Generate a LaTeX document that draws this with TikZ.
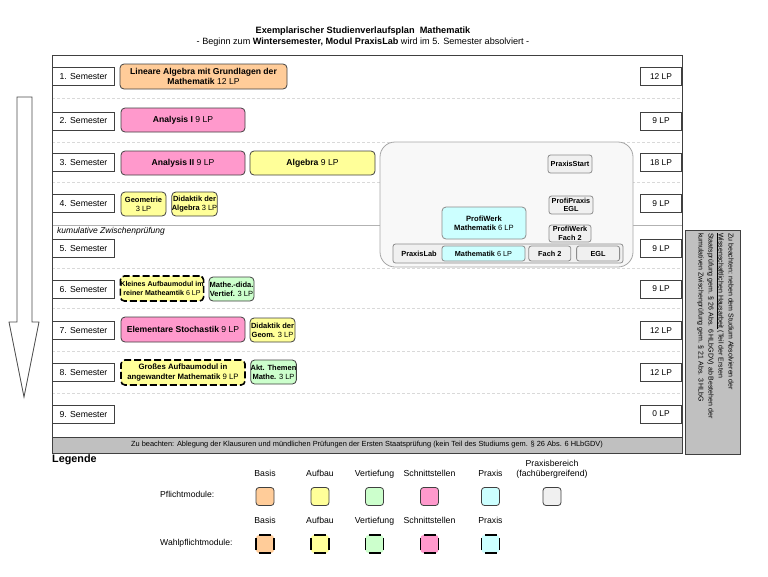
\documentclass[tikz,border=0pt]{standalone}
\usepackage{fontspec}
\setmainfont{Liberation Sans}
\usetikzlibrary{positioning}
\definecolor{basis}{HTML}{FFCC99}
\definecolor{aufbau}{HTML}{FFFF99}
\definecolor{vertiefung}{HTML}{CCFFCC}
\definecolor{schnitt}{HTML}{FF99CC}
\definecolor{praxis}{HTML}{CCFFFF}
\definecolor{bereich}{HTML}{F0F0F0}
\definecolor{hinweis}{HTML}{C0C0C0}
\definecolor{rahmen}{HTML}{404040}
\tikzstyle{semester} = [rectangle, minimum width=62pt, minimum height=18pt, inner sep=0pt, text centered, draw=rahmen, line width=1pt, fill=white, font=\fontsize{8.7}{9.5}\selectfont]
\tikzstyle{lp} = [semester, minimum width=41pt, font=\fontsize{8.4}{9.5}\selectfont]
\tikzstyle{modul} = [rectangle, rounded corners=4pt, minimum height=24pt, inner sep=1pt, align=center, draw=rahmen, line width=0.8pt, font=\fontsize{8.6}{9.6}\selectfont]
\tikzstyle{wahl} = [modul, draw=black, line width=1.6pt, dash pattern=on 7pt off 3pt, inner sep=0pt]
\tikzstyle{klein} = [modul, minimum width=45pt, inner sep=0pt, font=\fontsize{7.5}{8.8}\selectfont]
\tikzstyle{praxisbox} = [rectangle, rounded corners=2.5pt, draw=black!45, line width=0.8pt, fill=bereich, align=center, inner sep=0pt, font=\fontsize{7.3}{8.3}\selectfont]
\tikzstyle{trenner} = [draw=black!15, line width=0.6pt, dash pattern=on 3pt off 2pt]
\tikzstyle{feld} = [rectangle, rounded corners=3pt, minimum width=18pt, minimum height=18pt, inner sep=0pt, outer sep=0pt, draw=rahmen, line width=0.8pt]
\tikzstyle{wahlrand} = [draw=black, line width=1.6pt, dash pattern=on 12pt off 6pt, dash phase=15pt]
\tikzstyle{kopf} = [font=\fontsize{8.7}{10}\selectfont, align=center, inner sep=1pt, text height=6.3pt, text depth=2pt]

\begin{document}
\begin{tikzpicture}[x=1pt, y=-1pt]
	\useasboundingbox (0,0) rectangle (768,576);
	% title
	\node (t1) [font=\fontsize{9.2}{10}\selectfont\bfseries] at (363,31) {Exemplarischer Studienverlaufsplan\ \ Mathematik};
	\node (t2) [font=\fontsize{9.1}{10}\selectfont] at (363,42) {- Beginn zum \textbf{Wintersemester, Modul PraxisLab} wird im 5. Semester absolviert -};
	% rows
	\draw [trenner] (52,98) -- (682,98);
	\draw [trenner] (52,142) -- (682,142);
	\draw [trenner] (52,182) -- (682,182);
	\draw [draw=black!30, line width=0.6pt] (52,225) -- (682,225);
	\draw [trenner] (52,268) -- (682,268);
	\draw [trenner] (52,308) -- (682,308);
	\draw [trenner] (52,351) -- (682,351);
	\draw [trenner] (52,393) -- (682,393);
	\draw [draw=rahmen, line width=1pt] (52,452) -- (52,55) -- (682,55) -- (682,452);
	\node (zp) [anchor=west, inner sep=0pt, font=\fontsize{8.5}{9}\selectfont\itshape] at (57,231) {kumulative Zwischenprüfung};
	\node (s1) [semester, anchor=west] at (52,76.5) {1. Semester};
	\node (s2) [semester, anchor=west] at (52,121) {2. Semester};
	\node (s3) [semester, anchor=west] at (52,162.5) {3. Semester};
	\node (s4) [semester, anchor=west] at (52,203.5) {4. Semester};
	\node (s5) [semester, anchor=west] at (52,248.5) {5. Semester};
	\node (s6) [semester, anchor=west] at (52,289) {6. Semester};
	\node (s7) [semester, anchor=west] at (52,330.5) {7. Semester};
	\node (s8) [semester, anchor=west] at (52,372.5) {8. Semester};
	\node (s9) [semester, anchor=west] at (52,414) {9. Semester};
	\node (lp1) [lp, anchor=east] at (682,76.5) {12 LP};
	\node (lp2) [lp, anchor=east] at (682,121) {9 LP};
	\node (lp3) [lp, anchor=east] at (682,162.5) {18 LP};
	\node (lp4) [lp, anchor=east] at (682,203.5) {9 LP};
	\node (lp5) [lp, anchor=east] at (682,248.5) {9 LP};
	\node (lp6) [lp, anchor=east] at (682,289) {9 LP};
	\node (lp7) [lp, anchor=east] at (682,330.5) {12 LP};
	\node (lp8) [lp, anchor=east] at (682,372.5) {12 LP};
	\node (lp9) [lp, anchor=east] at (682,414) {0 LP};
	% modules
	\node (la) [modul, fill=basis, minimum width=167pt, minimum height=25pt] at (203.5,76.5) {\textbf{Lineare Algebra mit Grundlagen der}\\\textbf{Mathematik} 12 LP};
	\node (an1) [modul, fill=schnitt, minimum width=124pt] at (183,120) {\textbf{Analysis I} 9 LP};
	\node (an2) [modul, fill=schnitt, minimum width=124pt] at (183,163) {\textbf{Analysis II} 9 LP};
	\node (alg) [modul, fill=aufbau, minimum width=125pt] at (312.5,163) {\textbf{Algebra} 9 LP};
	\node (geo) [klein, fill=aufbau] at (143.5,204) {\textbf{Geometrie}\\3 LP};
	\node (dalg) [klein, fill=aufbau] at (194.5,204) {\textbf{Didaktik der}\\\textbf{Algebra} 3 LP};
	\node (kam) [wahl, fill=aufbau, minimum width=82pt, minimum height=25pt, font=\fontsize{7.1}{8.8}\selectfont] at (162,288.5) {\textbf{Kleines Aufbaumodul im}\\\textbf{reiner Matheamtik} 6 LP};
	\node (mdv) [klein, fill=vertiefung] at (231.5,289) {\textbf{Mathe.-dida.}\\\textbf{Vertief.} 3 LP};
	\node (sto) [modul, fill=schnitt, minimum width=124pt, minimum height=25pt] at (183,329.5) {\textbf{Elementare Stochastik} 9 LP};
	\node (dgeo) [klein, fill=aufbau] at (272.5,330) {\textbf{Didaktik der}\\\textbf{Geom.} 3 LP};
	\node (gam) [wahl, fill=aufbau, minimum width=124pt, minimum height=25pt, font=\fontsize{7.8}{9.4}\selectfont] at (183,372.5) {\textbf{Großes Aufbaumodul in}\\\textbf{angewandter Mathematik} 9 LP};
	\node (akt) [klein, fill=vertiefung] at (273.5,372) {\textbf{Akt. Themen}\\\textbf{Mathe.} 3 LP};
	% praxis
	\node (pb) [rectangle, rounded corners=15pt, draw=black!35, line width=0.8pt, fill=bereich!50, minimum width=253pt, minimum height=125pt] at (506.5,204.5) {};
	\node (pstart) [praxisbox, minimum width=44pt, minimum height=18pt] at (570,164) {\textbf{PraxisStart}};
	\node (ppegl) [praxisbox, minimum width=44pt, minimum height=18pt] at (571,205) {\textbf{ProfiPraxis}\\\textbf{EGL}};
	\node (pwf) [praxisbox, minimum width=42pt, minimum height=17pt] at (570,233.5) {\textbf{ProfiWerk}\\\textbf{Fach 2}};
	\node (pwm) [praxisbox, fill=praxis, rounded corners=4pt, minimum width=84pt, minimum height=32pt, font=\fontsize{7.6}{9}\selectfont] at (484,223) {\textbf{ProfiWerk}\\\textbf{Mathematik} 6 LP};
	\node (plab) [praxisbox, minimum width=230pt, minimum height=19pt] at (508,253.5) {};
	\node (pltxt) [font=\fontsize{7.4}{8}\selectfont\bfseries] at (419,254) {PraxisLab};
	\node (plm) [praxisbox, fill=praxis, minimum width=83pt, minimum height=15pt] at (483.5,253.5) {\textbf{Mathematik} 6 LP};
	\node (plf) [praxisbox, minimum width=42pt, minimum height=15pt, right=3pt of plm] {\textbf{Fach 2}};
	\node (ple) [praxisbox, minimum width=43pt, minimum height=15pt, right=5pt of plf] {\textbf{EGL}};
	% arrow
	\draw [draw=black!70, fill=white, line width=0.8pt] (17,97) -- (32,97) -- (32,322) -- (39,322) -- (24,397) -- (9,322) -- (17,322) -- cycle;
	% notes
	\node (zb) [rectangle, draw=rahmen, line width=1pt, fill=hinweis, minimum width=630pt, minimum height=16pt, inner sep=0pt, font=\fontsize{7.4}{8}\selectfont] at (367,445) {Zu beachten: Ablegung der Klausuren und mündlichen Prüfungen der Ersten Staatsprüfung (kein Teil des Studiums gem. § 26 Abs. 6 HLbGDV)};
	\node (hb) [rectangle, draw=rahmen, line width=1pt, fill=hinweis, minimum width=55pt, minimum height=224pt] at (712.5,342) {};
	\node (ht) [rotate=-90, anchor=north west, align=left, inner sep=0pt, font=\fontsize{7}{10}\selectfont] at (734,233) {Zu beachten: neben dem Studium Absolvieren der\\\underline{Wissenschaftlichen Hausarbeit} (Teil der Ersten\\Staatsprüfung gem. § 26 Abs. 6 HLbGDV) ab Bestehen der\\kumulativen Zwischenprüfung gem. § 21 Abs. 3 HLbG};
	% legend
	\node (leg) [anchor=west, inner sep=0pt, font=\fontsize{10.8}{12}\selectfont\bfseries] at (52,460) {Legende};
	\node (pfl) [anchor=west, inner sep=0pt, font=\fontsize{8.6}{9.5}\selectfont] at (160,494) {Pflichtmodule:};
	\node (wpf) [anchor=west, inner sep=0pt, font=\fontsize{8.6}{9.5}\selectfont] at (160,543) {Wahlpflichtmodule:};
	\node (fb) [feld, fill=basis] at (265,496.5) {};
	\node (fa) [feld, fill=aufbau] at (320,496.5) {};
	\node (fv) [feld, fill=vertiefung] at (374.5,496.5) {};
	\node (fs) [feld, fill=schnitt] at (429.5,496.5) {};
	\node (fp) [feld, fill=praxis] at (490.5,496.5) {};
	\node (fpb) [feld, fill=bereich] at (552,496.5) {};
	\node [kopf, above=8pt of fb] {Basis};
	\node [kopf, above=8pt of fa] {Aufbau};
	\node [kopf, above=8pt of fv] {Vertiefung};
	\node [kopf, above=8pt of fs] {Schnittstellen};
	\node [kopf, above=8pt of fp] {Praxis};
	\node [kopf, above=8pt of fpb] {Praxisbereich\\(fachübergreifend)};
	\node (wb) [feld, fill=basis, draw=none] at (265,544) {};
	\node (wa) [feld, fill=aufbau, draw=none] at (320,544) {};
	\node (wv) [feld, fill=vertiefung, draw=none] at (374.5,544) {};
	\node (ws) [feld, fill=schnitt, draw=none] at (429.5,544) {};
	\node (wp) [feld, fill=praxis, draw=none] at (490.5,544) {};
	\draw [wahlrand] (wb.south west) rectangle (wb.north east);
	\draw [wahlrand] (wa.south west) rectangle (wa.north east);
	\draw [wahlrand] (wv.south west) rectangle (wv.north east);
	\draw [wahlrand] (ws.south west) rectangle (ws.north east);
	\draw [wahlrand] (wp.south west) rectangle (wp.north east);
	\node [kopf, above=8pt of wb] {Basis};
	\node [kopf, above=8pt of wa] {Aufbau};
	\node [kopf, above=8pt of wv] {Vertiefung};
	\node [kopf, above=8pt of ws] {Schnittstellen};
	\node [kopf, above=8pt of wp] {Praxis};
\end{tikzpicture}
\end{document}
